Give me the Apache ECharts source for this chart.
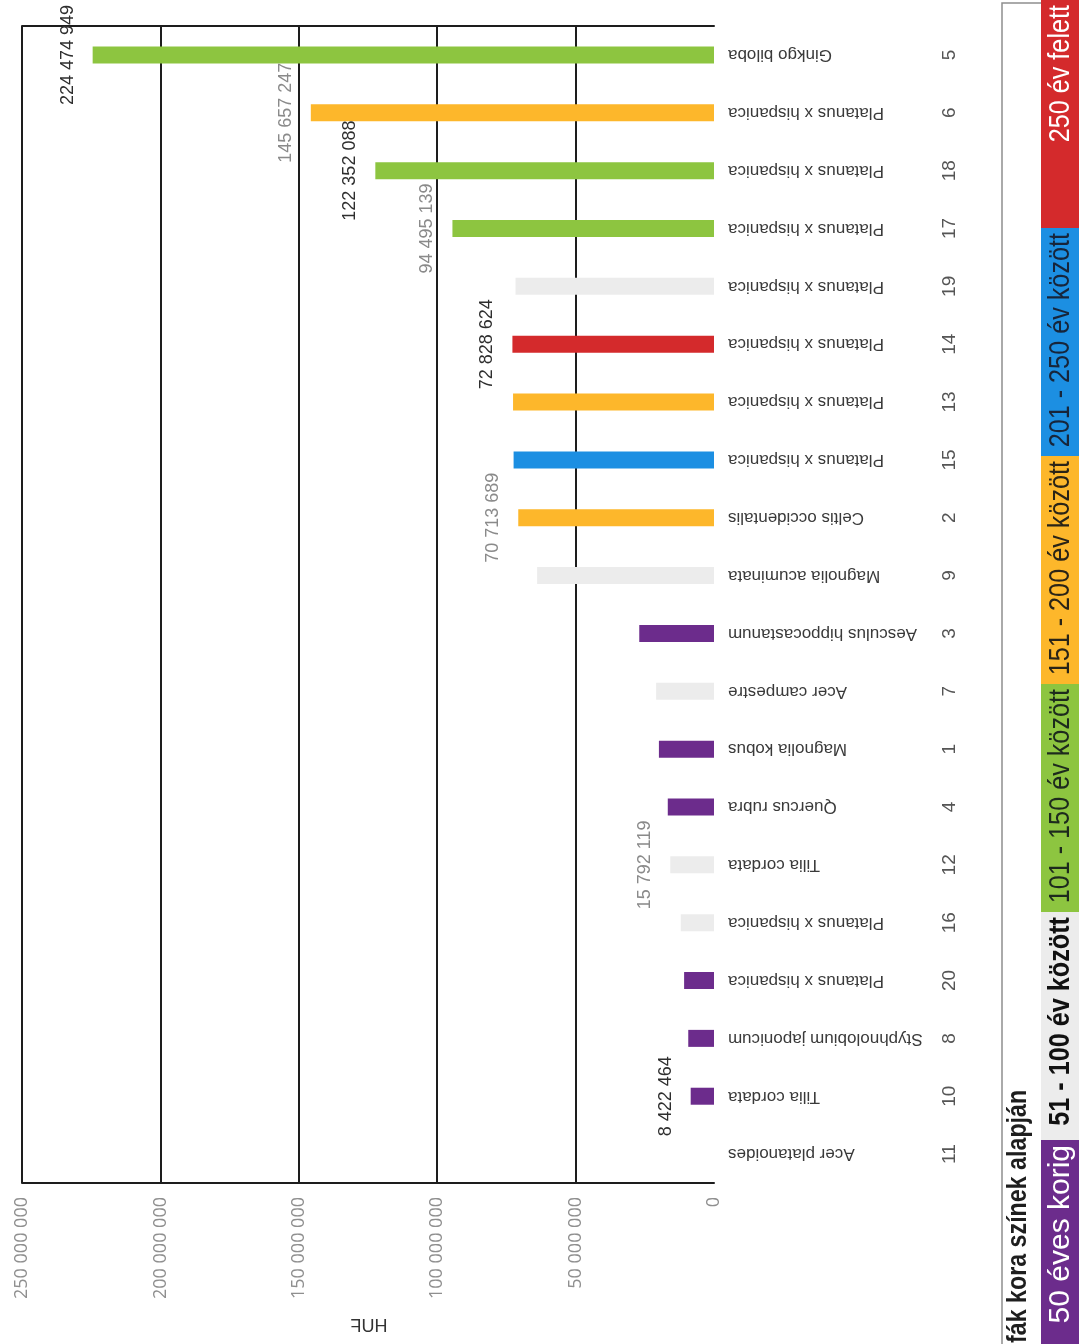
<!DOCTYPE html>
<html>
	<head>
		<meta charset="utf-8" />
		<title></title>
		<script src="https://cdn.jsdelivr.net/npm/echarts@6/dist/echarts.min.js"></script>
		<style>
			*{
				padding: 0;
				margin: 0;
			}
			body{
				background: #fff;
			}
			.main{
				width: 1079px;
				height: 1344px;
			}
		</style>
	</head>
	<body>
		<div id="main" class="main"></div>
		<script type="text/javascript">

		// fák (felülről lefelé)
		var treeNames = [
			'Ginkgo biloba', 'Platanus x hispanica', 'Platanus x hispanica', 'Platanus x hispanica',
			'Platanus x hispanica', 'Platanus x hispanica', 'Platanus x hispanica', 'Platanus x hispanica',
			'Celtis occidentalis', 'Magnolia acuminata', 'Aesculus hippocastanum', 'Acer campestre',
			'Magnolia kobus', 'Quercus rubra', 'Tilia cordata', 'Platanus x hispanica',
			'Platanus x hispanica', 'Styphnolobium japonicum', 'Tilia cordata', 'Acer platanoides'
		];
		var treeIds = [5, 6, 18, 17, 19, 14, 13, 15, 2, 9, 3, 7, 1, 4, 12, 16, 20, 8, 10, 11];
		// érték HUF
		var treeValues = [
			224474949, 145657247, 122352088, 94495139,
			71700000, 72828624, 72600000, 72400000,
			70713689, 63900000, 27000000, 20900000,
			19900000, 16700000, 15792119, 12000000,
			10800000, 9300000, 8422464, 0
		];
		// korcsoport: 0 = 50 éves korig ... 5 = 250 év felett
		var treeAgeGroup = [2, 3, 2, 2, 1, 5, 3, 4, 3, 1, 0, 1, 0, 0, 1, 1, 0, 0, 0, 1];
		// feliratozott oszlopok
		var labelledBars = [0, 1, 2, 3, 5, 8, 14, 18];

		var ageLabels = ['50 éves korig', '51 - 100 év között', '101 - 150 év között',
			'151 - 200 év között', '201 - 250 év között', '250 év felett'];
		var valueTicks = [0, 50000000, 100000000, 150000000, 200000000, 250000000];

		// stílus
		var ageColors = ['#6c2c8c', '#ececec', '#8dc540', '#fdb72b', '#1c8fe2', '#d42a2c'];
		var ageTextColors = ['#fff', '#111', '#1d2a1d', '#2a2417', '#17253a', '#fff'];
		var labelTone = {0: '#2e2e2e', 1: '#8a8a8a', 2: '#2e2e2e', 3: '#8a8a8a', 5: '#2e2e2e', 8: '#8a8a8a', 14: '#8a8a8a', 18: '#2e2e2e'};
		var sans = '"Liberation Sans", Arial, sans-serif';

		function huf(v) {
			return String(v).replace(/\B(?=(\d{3})+(?!\d))/g, ' ');
		}

		var barData = treeValues.map(function (v, i) {
			var item = {
				value: v,
				itemStyle: { color: ageColors[treeAgeGroup[i]] }
			};
			if (labelledBars.indexOf(i) >= 0) {
				item.label = { show: true, color: labelTone[i] };
			}
			return item;
		});

		// jelmagyarázat (jobb oldali sáv) - keskenyített szöveg scaleX-szel
		var legendGraphics = [{
			type: 'rect',
			shape: { x: 1002, y: 3, width: 120, height: 1400 },
			style: { fill: '#fff', stroke: '#8e8e8e', lineWidth: 1.5 },
			z: 1
		}, {
			type: 'text',
			x: 1018, y: 1343,
			rotation: Math.PI / 2,
			scaleX: 0.83,
			style: {
				text: 'fák kora színek alapján',
				font: 'bold 28px ' + sans,
				fill: '#1e1e1e',
				textAlign: 'left',
				textVerticalAlign: 'middle'
			},
			z: 3
		}];
		ageLabels.forEach(function (txt, i) {
			var top = 1368 - (i + 1) * 228;
			legendGraphics.push({
				type: 'rect',
				shape: { x: 1041, y: top, width: 40, height: 228 },
				style: { fill: ageColors[i] },
				z: 2
			});
			legendGraphics.push({
				type: 'text',
				x: 1061, y: top + 5,
				rotation: Math.PI / 2,
				scaleX: i == 0 ? 1 : 0.84,
				style: {
					text: txt,
					font: (i == 1 ? 'bold ' : '') + '30px ' + sans,
					fill: ageTextColors[i],
					textAlign: 'right',
					textVerticalAlign: 'middle'
				},
				z: 3
			});
		});
		// tengelycím (tükrözve, ahogy a szkennelt lapon)
		legendGraphics.push({
			type: 'text',
			x: 369, y: 1327,
			scaleX: -1,
			style: {
				text: 'HUF',
				font: '18px ' + sans,
				fill: '#333',
				textAlign: 'center',
				textVerticalAlign: 'middle'
			}
		});

		var myChart = echarts.init(document.getElementById('main'));

		var option = {
			backgroundColor: '#fff',
			animation: false,
			grid: {
				left: 22,
				right: 365,
				top: 26,
				bottom: 161
			},
			xAxis: [{
				type: 'value',
				inverse: true,
				position: 'bottom',
				min: valueTicks[0],
				max: valueTicks[valueTicks.length - 1],
				interval: valueTicks[1] - valueTicks[0],
				axisLine: { show: true, lineStyle: { color: '#1d1d1d', width: 2 } },
				axisTick: { show: false },
				splitLine: {
					show: true,
					showMinLine: false,
					lineStyle: { color: '#1d1d1d', width: 2 }
				},
				axisLabel: {
					rotate: 90,
					margin: 14,
					color: '#8f8f8f',
					fontSize: 18,
					fontFamily: '"Open Sans", sans-serif',
					formatter: huf
				}
			}, {
				type: 'value',
				inverse: true,
				position: 'top',
				min: valueTicks[0],
				max: valueTicks[valueTicks.length - 1],
				interval: valueTicks[1] - valueTicks[0],
				axisLine: { show: true, lineStyle: { color: '#1d1d1d', width: 2 } },
				axisTick: { show: false },
				splitLine: { show: false },
				axisLabel: { show: false }
			}],
			yAxis: [{
				type: 'category',
				inverse: true,
				position: 'right',
				data: treeNames,
				axisLine: { show: false },
				axisTick: { show: false },
				axisLabel: {
					interval: 0,
					rotate: 180,
					align: 'right',
					verticalAlign: 'middle',
					margin: 14,
					fontSize: 17,
					color: '#3a3a3a',
					fontFamily: sans
				}
			}, {
				type: 'category',
				inverse: true,
				position: 'right',
				offset: 228,
				data: treeIds,
				axisLine: { show: false },
				axisTick: { show: false },
				axisLabel: {
					interval: 0,
					rotate: 90,
					align: 'center',
					verticalAlign: 'middle',
					margin: 8,
					fontSize: 19,
					color: '#555',
					fontFamily: sans
				}
			}],
			graphic: legendGraphics,
			series: [{
				type: 'bar',
				xAxisIndex: 0,
				yAxisIndex: 0,
				barWidth: 17,
				label: {
					show: false,
					position: 'left',
					distance: 25,
					rotate: 90,
					align: 'center',
					verticalAlign: 'middle',
					fontSize: 18,
					fontFamily: sans,
					formatter: function (p) {
						return huf(p.value);
					}
				},
				data: barData
			}]
		};

		myChart.setOption(option);
		</script>
	</body>
</html>
